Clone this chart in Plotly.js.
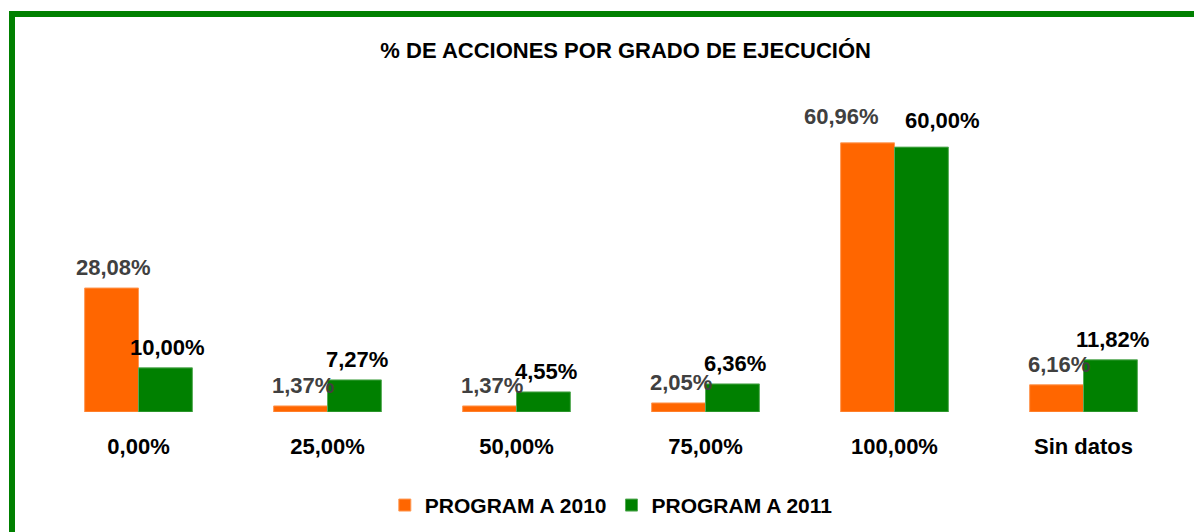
<!DOCTYPE html>
<html>
<head>
<meta charset="utf-8">
<script src="https://cdn.plot.ly/plotly-3.0.1.min.js"></script>
<style>
  body { margin: 0; background: #fff; }
  #wrap { position: relative; width: 1194px; height: 532px; overflow: hidden; }
  #plot { position: absolute; left: 0; top: 0; width: 1194px; height: 532px; }
  /* marco verde del gráfico (solo arriba e izquierda se ven) */
  #marco {
    position: absolute; left: 9px; top: 11px; width: 1300px; height: 600px;
    border-top: 6px solid #008000; border-left: 6px solid #008000;
    pointer-events: none;
  }
</style>
</head>
<body>
<div id="wrap">
  <div id="plot"></div>
  <div id="marco"></div>
</div>
<script>
// Datos del gráfico
const categorias = ['0,00%', '25,00%', '50,00%', '75,00%', '100,00%', 'Sin datos'];
const programa2010 = [28.08, 1.37, 1.37, 2.05, 60.96, 6.16];
const programa2011 = [10.00, 7.27, 4.55, 6.36, 60.00, 11.82];
const nombres = ['PROGRAM A 2010', 'PROGRAM A 2011'];

const fuente = 'Liberation Sans, Arial, sans-serif';

const formato = v => v.toFixed(2).replace('.', ',') + '%';

// Ajuste de etiquetas que se pisan (como en el original)
const ajuste = { 4: { dx1: 28, dx2: 19, dy: 6 } };

const data = [
  {
    x: categorias,
    y: programa2010,
    type: 'bar',
    name: nombres[0],
    marker: { color: '#FF6600', line: { color: '#FF9955', width: 1 } },
    hoverinfo: 'skip'
  },
  {
    x: categorias,
    y: programa2011,
    type: 'bar',
    name: nombres[1],
    marker: { color: '#008000', line: { color: '#55AA55', width: 1 } },
    hoverinfo: 'skip'
  }
];

// Etiquetas de valor encima de cada barra
const etiquetas = [];
categorias.forEach((c, i) => {
  const a = ajuste[i] || { dx1: 0, dx2: 0, dy: 0 };
  etiquetas.push({
    x: c, y: programa2010[i], xref: 'x', yref: 'y',
    text: formato(programa2010[i]), showarrow: false,
    xshift: -25 - a.dx1, yshift: 6 + a.dy, yanchor: 'bottom',
    font: { family: fuente, size: 22, color: '#404040', weight: 'bold' }
  });
  etiquetas.push({
    x: c, y: programa2011[i], xref: 'x', yref: 'y',
    text: formato(programa2011[i]), showarrow: false,
    xshift: 29 + a.dx2, yshift: 6 + a.dy, yanchor: 'bottom',
    font: { family: fuente, size: 22, color: '#000000', weight: 'bold' }
  });
});

const layout = {
  width: 1194,
  height: 532,
  margin: { l: 44, r: 16, t: 80, b: 120 },
  paper_bgcolor: '#ffffff',
  plot_bgcolor: '#ffffff',
  font: { family: fuente, color: '#000' },
  title: {
    text: '<b>% DE ACCIONES POR GRADO DE EJECUCIÓN</b>',
    font: { family: fuente, size: 22, color: '#000' },
    x: 0.524, xref: 'container', xanchor: 'center',
    y: 0.906, yref: 'container', yanchor: 'middle'
  },
  barmode: 'group',
  bargap: 0.43,
  bargroupgap: 0,
  xaxis: {
    type: 'category',
    showgrid: false, showline: false, zeroline: false, ticks: '',
    ticklabelstandoff: 19,
    tickfont: { family: fuente, size: 22, color: '#000', weight: 'bold' }
  },
  yaxis: {
    range: [0, 75.2], visible: false, showgrid: false, zeroline: false
  },
  showlegend: true,
  legend: {
    orientation: 'h', x: 0.512, xref: 'container', xanchor: 'center',
    y: 0.05, yref: 'container', yanchor: 'middle',
    font: { family: fuente, size: 21, color: '#000', weight: 'bold' },
    itemwidth: 30, traceorder: 'normal'
  },
  annotations: etiquetas
};

Plotly.newPlot('plot', data, layout, { displayModeBar: false, staticPlot: true });
</script>
</body>
</html>
